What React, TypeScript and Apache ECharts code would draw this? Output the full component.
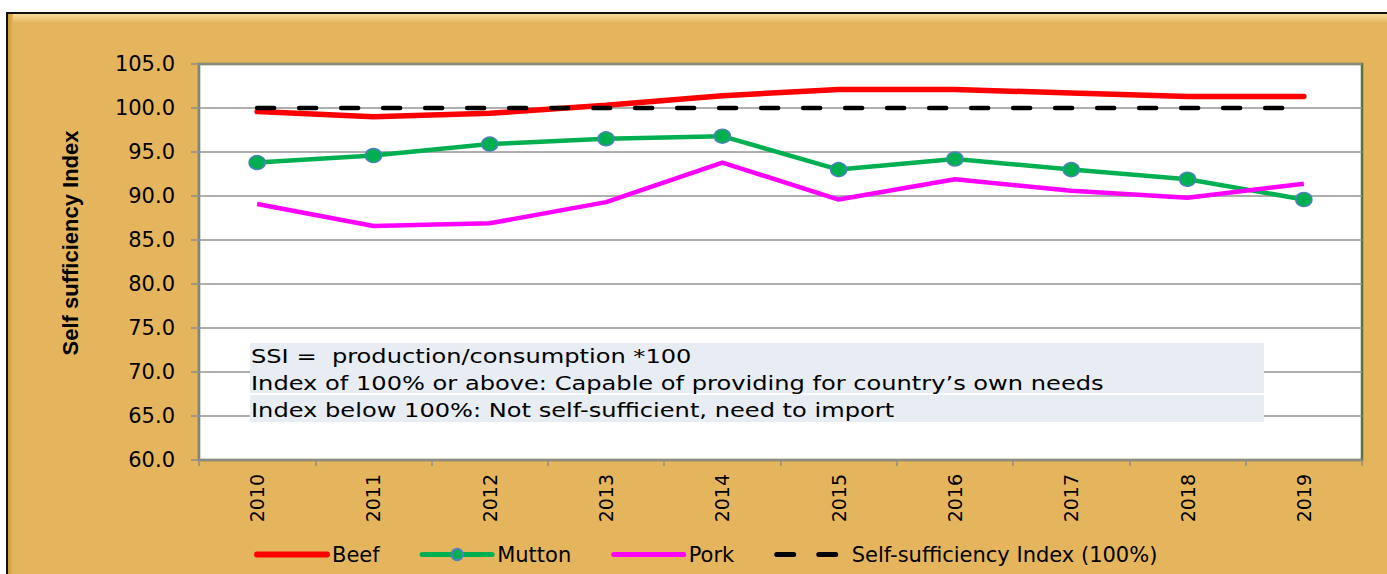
import React, { useEffect, useRef } from 'react';
import * as echarts from 'echarts';

const years = ['2010', '2011', '2012', '2013', '2014', '2015', '2016', '2017', '2018', '2019'];
const beef = [99.6, 99.0, 99.4, 100.3, 101.4, 102.1, 102.1, 101.7, 101.3, 101.3];
const mutton = [93.8, 94.6, 95.9, 96.5, 96.8, 93.0, 94.2, 93.0, 91.9, 89.6];
const pork = [89.1, 86.6, 86.9, 89.3, 93.8, 89.6, 91.9, 90.6, 89.8, 91.4];
const ssi = [100, 100, 100, 100, 100, 100, 100, 100, 100, 100];
const seriesNames = ['Beef', 'Mutton', 'Pork', 'Self-sufficiency Index (100%)'];
const yMin = 60;
const yMax = 105;
const yStep = 5;
const yTitle = 'Self sufficiency Index';
const noteLines = [
  'SSI =  production/consumption *100',
  'Index of 100% or above: Capable of providing for country\u2019s own needs',
  'Index below 100%: Not self-sufficient, need to import',
];

export default function App() {
  const ref = useRef<HTMLDivElement>(null);
  useEffect(() => {
    const chart = echarts.init(ref.current!, null, { renderer: 'svg' });
    const gold = '#E5B55D';
    const hidden = { color: 'rgba(0,0,0,0)', borderWidth: 0, opacity: 0 };
    chart.setOption({
      animation: false,
      backgroundColor: '#FFFFFF',
      grid: {
        left: 199,
        right: 25,
        top: 64,
        bottom: 114,
        show: true,
        backgroundColor: '#FFFFFF',
        borderColor: '#5F7039',
        borderWidth: 2.5,
      },
      legend: {
        left: 249,
        top: 539,
        itemWidth: 70,
        itemHeight: 14,
        itemGap: 40,
        textStyle: { fontFamily: 'DejaVu Sans', fontSize: 21, color: '#000' },
        data: [
          { name: seriesNames[0], itemStyle: hidden, lineStyle: { width: 6, cap: 'round' } },
          { name: seriesNames[1], lineStyle: { width: 5, cap: 'round' } },
          { name: seriesNames[2], itemStyle: hidden, lineStyle: { width: 5, cap: 'round' } },
          { name: seriesNames[3], itemStyle: hidden, lineStyle: { width: 5, cap: 'round' } },
        ],
      },
      xAxis: {
        type: 'category',
        data: years,
        boundaryGap: true,
        axisLine: { lineStyle: { color: '#8C8C8C', width: 1.5 } },
        axisTick: { show: true, length: 6, lineStyle: { color: '#8C8C8C', width: 1.5 } },
        axisLabel: { rotate: 90, margin: 14, fontFamily: 'DejaVu Sans', fontSize: 19, color: '#000' },
      },
      yAxis: {
        type: 'value',
        min: yMin,
        max: yMax,
        interval: yStep,
        axisLine: { show: true, lineStyle: { color: '#8C8C8C', width: 1.5 } },
        axisTick: { show: true, length: 8, lineStyle: { color: '#8C8C8C', width: 1.5 } },
        axisLabel: {
          formatter: (v: number) => v.toFixed(1),
          margin: 24,
          fontFamily: 'DejaVu Sans',
          fontSize: 21,
          color: '#000',
        },
        splitLine: { lineStyle: { color: '#959595', width: 1.5 } },
      },
      graphic: [
        {
          type: 'rect',
          silent: true,
          z: -100,
          shape: { x: 7, y: 13, width: 1400, height: 600 },
          style: { fill: gold, stroke: '#111', lineWidth: 2 },
        },
        {
          type: 'rect',
          silent: true,
          z: -99,
          shape: { x: 8, y: 14, width: 1379, height: 9 },
          style: {
            fill: new echarts.graphic.LinearGradient(0, 0, 0, 1, [
              { offset: 0, color: '#F7DC98' },
              { offset: 1, color: gold },
            ]),
          },
        },
        {
          type: 'rect',
          silent: true,
          z: -98,
          shape: { x: 8, y: 14, width: 5, height: 560 },
          style: {
            fill: new echarts.graphic.LinearGradient(0, 0, 1, 0, [
              { offset: 0, color: '#C99A3E' },
              { offset: 1, color: gold },
            ]),
          },
        },
        {
          type: 'rect',
          silent: true,
          z: 50,
          shape: { x: 250, y: 343, width: 1014, height: 50 },
          style: { fill: '#E8ECF3' },
        },
        {
          type: 'rect',
          silent: true,
          z: 50,
          shape: { x: 250, y: 395, width: 1014, height: 27 },
          style: { fill: '#E8ECF3' },
        },
        ...noteLines.map((t, i) => ({
          type: 'text',
          silent: true,
          z: 51,
          x: 251,
          y: [356, 383, 410][i],
          scaleX: 1.27,
          style: {
            text: t,
            font: '19px "DejaVu Sans"',
            fill: '#000',
            textAlign: 'left',
            textVerticalAlign: 'middle',
          },
        })),
        {
          type: 'text',
          silent: true,
          z: 51,
          x: 70,
          y: 243,
          rotation: Math.PI / 2,
          style: {
            text: yTitle,
            font: 'bold 22px "Liberation Sans"',
            fill: '#000',
            textAlign: 'center',
            textVerticalAlign: 'middle',
          },
        },
      ],
      series: [
        {
          name: seriesNames[0],
          type: 'line',
          data: beef,
          symbol: 'none',
          lineStyle: { color: '#FF0000', width: 5.5, cap: 'round' },
          itemStyle: { color: '#FF0000' },
        },
        {
          name: seriesNames[1],
          type: 'line',
          data: mutton,
          symbol: 'circle',
          symbolSize: [16, 14],
          lineStyle: { color: '#00B050', width: 4.5 },
          itemStyle: { color: '#00B050', borderColor: '#4F81BD', borderWidth: 1.5 },
        },
        {
          name: seriesNames[2],
          type: 'line',
          data: pork,
          symbol: 'none',
          lineStyle: { color: '#FF00FF', width: 4.5 },
          itemStyle: { color: '#FF00FF' },
        },
        {
          name: seriesNames[3],
          type: 'line',
          data: ssi,
          symbol: 'none',
          lineStyle: { color: '#000000', width: 4.5, type: [17, 25], cap: 'round' },
          itemStyle: { color: '#000000' },
        },
      ],
    });
    return () => chart.dispose();
  }, []);
  return <div ref={ref} style={{ position: 'fixed', left: 0, top: 0, width: 1387, height: 574 }} />;
}
